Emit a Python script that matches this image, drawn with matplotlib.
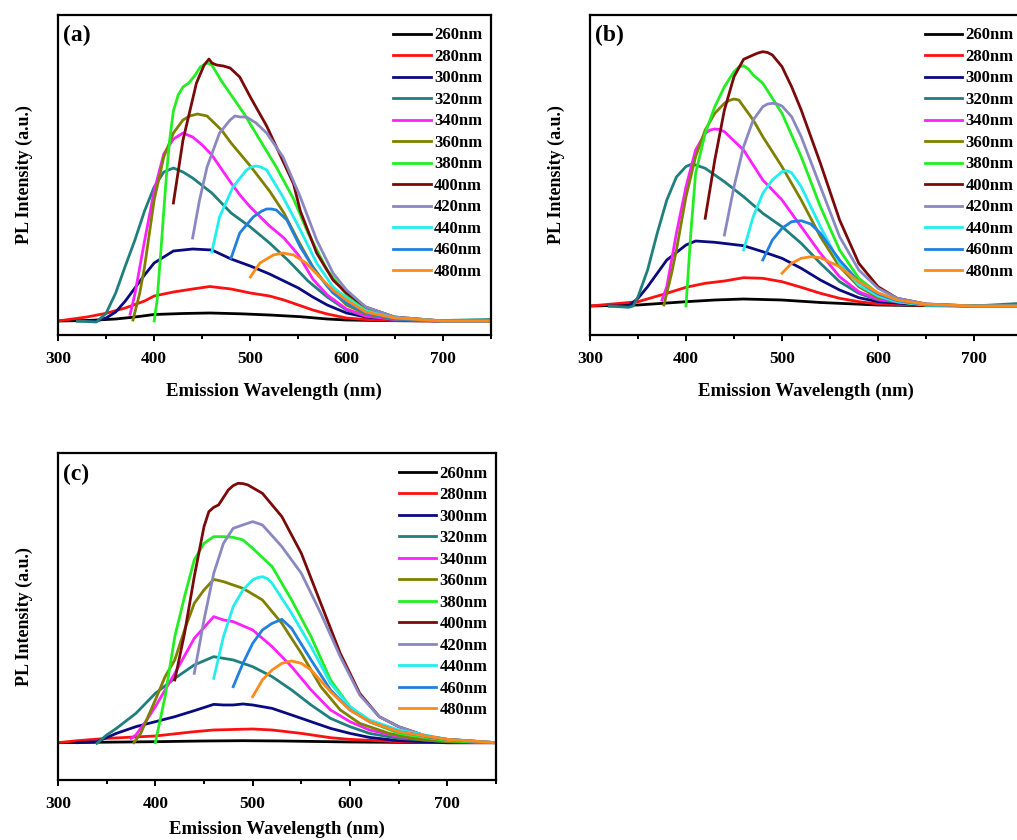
import matplotlib
matplotlib.use("Agg")
import matplotlib.pyplot as plt
from matplotlib.ticker import MultipleLocator

plt.rcParams['font.family'] = ['Liberation Serif', 'DejaVu Serif']
plt.rcParams['font.weight'] = 'bold'

# excitation wavelengths and colours of the series
labels = ['260nm', '280nm', '300nm', '320nm', '340nm', '360nm',
          '380nm', '400nm', '420nm', '440nm', '460nm', '480nm']
colors = ['#000000', '#ff1010', '#0a0a80', '#1f7f7c', '#ff20ff', '#808000',
          '#22ee22', '#7a0a0a', '#8a88c0', '#22eeee', '#2080e0', '#ff8a1a']

# ---------------- panel (a) ----------------
a260_wl = [300, 330, 360, 380, 400, 430, 458, 490, 520, 552, 580, 600, 630, 660, 700, 750]
a260_pl = [0, 0.5, 2, 4, 6.5, 7.5, 8, 7.2, 6, 4.3, 2, 1, 0.5, 0.2, 0, 0]
a280_wl = [300, 330, 350, 370, 390, 400, 420, 440, 458, 480, 500, 520, 535, 550, 565, 580, 600, 620, 650, 700, 750]
a280_pl = [0, 4, 7.7, 13, 20, 25, 29, 32, 34.5, 32, 28, 25, 21, 16, 11, 7, 3, 1.5, 0.5, 0, 0]
a300_wl = [320, 340, 350, 360, 370, 380, 390, 400, 420, 440, 460, 480, 500, 520, 535, 550, 565, 580, 600, 620, 650, 700, 750]
a300_pl = [0, 0, 3, 9, 20, 33, 46, 58, 70, 72, 71, 62, 55, 47, 40, 33, 24, 16, 8, 4, 1.5, 0, 0]
a320_wl = [320, 340, 350, 360, 370, 380, 390, 400, 410, 420, 430, 440, 460, 480, 500, 520, 530, 540, 560, 580, 600, 620, 650, 700, 750]
a320_pl = [0, -1, 7.7, 28, 55, 81, 110, 134, 149, 153, 149, 143, 128, 108, 94, 78, 69, 60, 40, 24, 11, 5, 1.5, 0.5, 1.5]
a340_wl = [375, 380, 390, 400, 410, 420, 430, 440, 450, 460, 470, 480, 490, 500, 520, 535, 550, 565, 580, 600, 620, 650, 700, 750]
a340_pl = [6.7, 27, 80, 130, 167, 182, 188, 184, 176, 166, 152, 138, 125, 114, 95, 83, 66, 42, 26, 12, 5, 1.5, 0, 0]
a360_wl = [378, 385, 390, 400, 410, 420, 430, 437, 445, 455, 470, 480, 500, 520, 535, 550, 565, 580, 600, 620, 650, 700, 750]
a360_pl = [1, 28, 54, 121, 164, 188, 201, 205, 207, 205, 191, 178, 155, 130, 108, 80, 54, 35, 16, 7, 2, 0, 0]
a380_wl = [400, 403, 407, 410, 413, 416, 420, 425, 430, 436, 442, 448, 455, 460, 470, 480, 493, 510, 527, 545, 560, 580, 600, 620, 650, 700, 750]
a380_pl = [0, 20, 70, 110, 148, 180, 210, 226, 234, 238, 245, 254, 258, 256, 240, 226, 208, 181, 154, 122, 88, 51, 26, 12, 3, 0, 0]
a400_wl = [420, 430, 444, 452, 457, 460, 465, 472, 479, 489, 500, 517, 531, 545, 552, 569, 586, 600, 620, 650, 700, 750]
a400_pl = [118, 181, 238, 256, 262, 258, 256, 255, 253, 244, 224, 195, 166, 137, 110, 68, 41, 28, 14, 4, 0, 0]
a420_wl = [440, 447, 455, 468, 479, 484, 490, 496, 506, 517, 534, 552, 569, 586, 600, 620, 650, 700, 750]
a420_pl = [83, 120, 154, 188, 201, 205, 204, 204, 198, 188, 164, 124, 81, 48, 31, 14, 4, 0, 0]
a440_wl = [460, 468, 482, 496, 501, 506, 511, 517, 534, 552, 569, 586, 600, 620, 650, 700, 750]
a440_pl = [69, 104, 134, 151, 154, 155, 154, 151, 124, 91, 58, 34, 23, 10, 3, 0, 0]
a460_wl = [480, 489, 503, 512, 517, 522, 527, 538, 552, 569, 586, 600, 620, 650, 700, 750]
a460_pl = [63, 88, 104, 110, 112, 112, 111, 101, 74, 48, 28, 18, 8, 2, 0, 0]
a480_wl = [500, 510, 524, 534, 545, 558, 572, 586, 600, 620, 650, 700, 750]
a480_pl = [44, 58, 66, 68, 66, 58, 44, 31, 21, 9, 3, 0, 0]

# ---------------- panel (b) ----------------
b260_wl = [300, 350, 400, 430, 460, 500, 540, 600, 650, 700, 750]
b260_pl = [0, 1, 4.3, 6, 7, 6, 3.5, 1, 0.3, 0, 0]
b280_wl = [300, 350, 380, 400, 420, 440, 460, 480, 500, 520, 540, 560, 580, 600, 650, 700, 750]
b280_pl = [0, 4.3, 12.7, 18.7, 22.7, 25, 28.3, 27.7, 24.3, 18.7, 12.7, 7.7, 4.3, 2, 0.7, 0, 0]
b300_wl = [320, 340, 350, 360, 380, 400, 410, 430, 460, 480, 500, 520, 540, 560, 580, 600, 650, 700, 750]
b300_pl = [0, 0, 7.7, 19.3, 46, 61, 65, 63.7, 60.3, 54.3, 47.7, 37.7, 26, 16, 8.3, 4.3, 1, 0, 0]
b320_wl = [320, 340, 345, 350, 360, 370, 380, 390, 400, 405, 410, 420, 440, 460, 480, 500, 520, 540, 560, 580, 600, 650, 700, 750]
b320_pl = [0, -1.3, 0, 9.3, 36, 72.7, 106, 129, 139.5, 141.5, 141, 137.7, 124.3, 109.3, 92.7, 79.3, 62.7, 42.7, 24.3, 12.7, 6, 1, 0, 2.7]
b340_wl = [375, 380, 390, 400, 410, 420, 425, 430, 435, 440, 460, 480, 500, 520, 540, 560, 580, 600, 650, 700, 750]
b340_pl = [6, 19.3, 72.7, 119.3, 156, 172.7, 176, 177, 176.5, 174.3, 156, 126, 106, 79.3, 52.7, 29.3, 14.3, 6.7, 1.3, 0, 0]
b360_wl = [377, 385, 390, 400, 410, 420, 430, 440, 445, 450, 455, 470, 480, 500, 520, 540, 560, 580, 600, 650, 700, 750]
b360_pl = [1, 32.7, 56, 109.3, 149.3, 176, 192.7, 202.7, 205.5, 207, 206, 186, 169.3, 139.3, 106, 69.3, 39.3, 19.3, 8.3, 1.3, 0, 0]
b380_wl = [400, 405, 410, 420, 430, 440, 450, 455, 460, 465, 470, 480, 500, 520, 540, 560, 580, 600, 620, 650, 700, 750]
b380_pl = [0, 72.7, 132.7, 172.7, 199.3, 219.3, 234.3, 239, 240.3, 237, 231, 222.7, 192.7, 149.3, 99.3, 56, 27.7, 12.7, 4.3, 1, 0, 0]
b400_wl = [420, 430, 440, 450, 460, 470, 475, 480, 485, 490, 500, 510, 520, 540, 560, 580, 600, 620, 650, 700, 750]
b400_pl = [87.7, 146, 196, 229.3, 246.7, 251, 253, 254.3, 253.5, 251, 239.3, 219.3, 196, 142.7, 86, 42.7, 19.3, 7.7, 2, 0, 0]
b420_wl = [440, 450, 460, 470, 480, 485, 490, 495, 500, 510, 520, 540, 560, 580, 600, 620, 650, 700, 750]
b420_pl = [71, 119.3, 159.3, 186, 199.3, 202, 202.7, 202, 200, 189.3, 169.3, 119.3, 69.3, 36, 17.7, 7.7, 2, 0, 0]
b440_wl = [460, 470, 480, 490, 500, 505, 510, 520, 540, 560, 580, 600, 620, 650, 700, 750]
b440_pl = [56, 89.3, 112.7, 126, 134.3, 135.3, 133.3, 119.3, 79.3, 42.7, 21, 10, 4.3, 1, 0, 0]
b460_wl = [480, 490, 500, 510, 520, 530, 540, 560, 580, 600, 620, 650, 700, 750]
b460_pl = [46, 66, 77.7, 84.3, 85.3, 82, 72.7, 46, 24.3, 12, 5.3, 1.3, 0, 0]
b480_wl = [500, 510, 520, 530, 540, 560, 580, 600, 620, 650, 700, 750]
b480_pl = [32.7, 42.7, 47.7, 49.3, 48.3, 39.3, 24.3, 13.3, 6, 1.7, 0, 0]

# ---------------- panel (c) ----------------
c260_wl = [300, 350, 400, 450, 490, 530, 600, 650, 700, 750]
c260_pl = [0, 0.5, 1, 1.7, 2, 1.7, 0.7, 0.3, 0, 0]
c280_wl = [300, 320, 350, 400, 440, 460, 500, 520, 550, 580, 600, 650, 700, 750]
c280_pl = [0, 2, 4.3, 6.7, 11, 12.7, 13.7, 12.7, 9.3, 5, 3.3, 1, 0, 0]
c300_wl = [320, 340, 360, 380, 400, 420, 440, 460, 470, 480, 490, 500, 520, 540, 560, 580, 600, 620, 650, 700, 750]
c300_pl = [0, 1, 9.3, 16, 21, 26, 32, 38.3, 37.7, 37.7, 38.7, 37.7, 34.3, 27.7, 21, 14.3, 9.3, 5.3, 2, 0, 0]
c320_wl = [340, 350, 360, 380, 400, 420, 440, 460, 480, 500, 520, 540, 560, 580, 600, 620, 650, 700, 750]
c320_pl = [-0.7, 7.7, 14.3, 29.3, 49.3, 64.3, 77.7, 86, 82.7, 76, 66, 52.7, 37.7, 24.3, 16, 9.3, 4.3, 1, 0]
c340_wl = [375, 380, 390, 400, 420, 440, 460, 470, 480, 500, 520, 540, 560, 580, 600, 620, 650, 700, 750]
c340_pl = [4.3, 7.7, 21, 36, 69.3, 104.3, 126, 122.7, 121, 112.7, 96, 76, 52.7, 32.7, 21, 12.7, 6, 1.7, 0]
c360_wl = [378, 385, 400, 410, 420, 430, 440, 450, 460, 470, 490, 510, 530, 550, 570, 590, 610, 640, 670, 700, 750]
c360_pl = [0, 9.3, 42.7, 66, 82.7, 112.7, 139.3, 152.7, 163.3, 161, 154.3, 142.7, 119.3, 89.3, 56, 32.7, 19.3, 9.3, 3.3, 1, 0]
c380_wl = [400, 410, 420, 430, 440, 450, 460, 470, 480, 490, 500, 520, 540, 560, 580, 600, 620, 650, 700, 750]
c380_pl = [0, 46, 106, 146, 182.7, 199.3, 206, 206, 205.3, 202.7, 194.3, 176, 142.7, 106, 62.7, 36, 21, 9.3, 2, 0]
c400_wl = [420, 430, 440, 450, 455, 460, 465, 475, 480, 485, 490, 495, 510, 530, 550, 570, 590, 610, 630, 650, 680, 700, 750]
c400_pl = [62.7, 109.3, 166, 216, 231, 235.3, 237.7, 252.7, 257, 259.3, 259, 257.7, 249.3, 226, 189.3, 139.3, 89.3, 49.3, 26, 16, 6, 3.3, 0]
c420_wl = [440, 450, 460, 470, 480, 490, 500, 510, 530, 550, 570, 590, 610, 630, 650, 680, 700, 750]
c420_pl = [69.3, 122.7, 169.3, 199.3, 214.3, 217.7, 221, 217.7, 196, 169.3, 129.3, 86, 47.7, 26, 16, 6, 3.3, 0]
c440_wl = [460, 470, 480, 490, 500, 505, 510, 515, 520, 540, 560, 580, 600, 620, 650, 700, 750]
c440_pl = [64.3, 106, 136, 152.7, 162.7, 165, 166, 164, 159.3, 129.3, 96, 59.3, 36, 22.7, 12.7, 3.3, 0]
c460_wl = [480, 490, 500, 510, 520, 530, 540, 560, 580, 600, 620, 650, 700, 750]
c460_pl = [56, 79.3, 99.3, 112.7, 119.3, 123.3, 114.3, 82.7, 52.7, 32.7, 21, 11, 3.3, 0]
c480_wl = [500, 510, 520, 530, 540, 550, 560, 580, 600, 620, 650, 700, 750]
c480_pl = [46, 62.7, 72.7, 79.3, 81.7, 79.3, 72.7, 51, 32.7, 21, 11, 3.3, 0]

panel_a = [(a260_wl, a260_pl), (a280_wl, a280_pl), (a300_wl, a300_pl), (a320_wl, a320_pl),
           (a340_wl, a340_pl), (a360_wl, a360_pl), (a380_wl, a380_pl), (a400_wl, a400_pl),
           (a420_wl, a420_pl), (a440_wl, a440_pl), (a460_wl, a460_pl), (a480_wl, a480_pl)]
panel_b = [(b260_wl, b260_pl), (b280_wl, b280_pl), (b300_wl, b300_pl), (b320_wl, b320_pl),
           (b340_wl, b340_pl), (b360_wl, b360_pl), (b380_wl, b380_pl), (b400_wl, b400_pl),
           (b420_wl, b420_pl), (b440_wl, b440_pl), (b460_wl, b460_pl), (b480_wl, b480_pl)]
panel_c = [(c260_wl, c260_pl), (c280_wl, c280_pl), (c300_wl, c300_pl), (c320_wl, c320_pl),
           (c340_wl, c340_pl), (c360_wl, c360_pl), (c380_wl, c380_pl), (c400_wl, c400_pl),
           (c420_wl, c420_pl), (c440_wl, c440_pl), (c460_wl, c460_pl), (c480_wl, c480_pl)]


def disegna_pannello(ax, serie, lettera, ylim, alto_px, pad_x=11):
    for (wl, pl), col, lab in zip(serie, colors, labels):
        ax.plot(wl, pl, color=col, lw=2.0, label=lab, solid_joinstyle='round')
    ax.set_xlim(300, 750)
    ax.set_ylim(*ylim)
    ax.xaxis.set_major_locator(MultipleLocator(100))
    ax.xaxis.set_minor_locator(MultipleLocator(50))
    ax.tick_params(axis='x', which='major', length=4.5, width=1.4, labelsize=12.5, pad=7)
    ax.tick_params(axis='x', which='minor', length=3, width=1.4)
    ax.set_yticks([])
    for sp in ax.spines.values():
        sp.set_linewidth(1.6)
    ax.set_xlabel('Emission Wavelength (nm)', fontsize=13.5, fontweight='bold', labelpad=pad_x)
    ax.set_ylabel('PL Intensity (a.u.)', fontsize=13, fontweight='bold', labelpad=18)
    ax.text(0.012, 0.968, lettera, transform=ax.transAxes, fontsize=17,
            fontweight='bold', ha='left', va='top')
    ax.legend(loc='upper right', bbox_to_anchor=(1, 1 - 4 / alto_px), frameon=False,
              handlelength=2.25, handletextpad=0.2,
              labelspacing=0.33, borderaxespad=0.1, borderpad=0.4,
              prop={'weight': 'bold', 'size': 12})


fig = plt.figure(figsize=(10.17, 8.4), dpi=100)
ax_a = fig.add_axes([58 / 1017, 505 / 840, 432.7 / 1017, 320 / 840])
ax_b = fig.add_axes([590 / 1017, 505 / 840, 432 / 1017, 320 / 840])
ax_c = fig.add_axes([58 / 1017, 60 / 840, 438 / 1017, 326.7 / 840])

disegna_pannello(ax_a, panel_a, '(a)', (-14, 306), 320)
disegna_pannello(ax_b, panel_b, '(b)', (-29, 291), 320)
disegna_pannello(ax_c, panel_c, '(c)', (-37.3, 289.3), 326.7, pad_x=6)

fig.savefig('out.png', dpi=100)
